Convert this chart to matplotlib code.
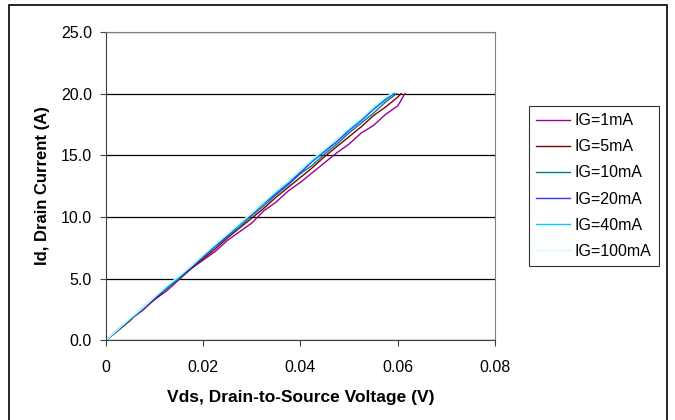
import matplotlib.pyplot as plt
from matplotlib.patches import Rectangle

plt.rcParams['font.family'] = ['Liberation Sans', 'DejaVu Sans']

labels = ['IG=1mA', 'IG=5mA', 'IG=10mA', 'IG=20mA', 'IG=40mA', 'IG=100mA']
colors = ['#990099', '#800000', '#008080', '#3333FF', '#00CCFF', '#CCFFFF']

# common Vds grid (V), each series then runs on to its own end point
grid = [0, 0.0025, 0.005, 0.0075, 0.01, 0.0125, 0.015, 0.0175, 0.02, 0.0225, 0.025, 0.0275,
        0.03, 0.0325, 0.035, 0.0375, 0.04, 0.0425, 0.045, 0.0475, 0.05, 0.0525, 0.055, 0.0575]
vds_end = [[0.06, 0.0605, 0.0615], [0.06, 0.0607], [0.0598], [0.0593], [0.059], [0.0588]]
id_end = [[19.0, 19.3, 20.0], [19.7, 20.0], [20.0], [20.0], [20.0], [20.0]]

id_a = [
    [0, 0.8, 1.7, 2.4, 3.3, 4.0, 4.9, 5.8, 6.5, 7.2, 8.1, 8.8, 9.5, 10.5, 11.2, 12.1, 12.8,
     13.6, 14.4, 15.2, 15.9, 16.8, 17.4, 18.3],
    [0, 0.8, 1.6, 2.6, 3.3, 4.2, 5.0, 5.8, 6.6, 7.4, 8.3, 9.1, 9.9, 10.7, 11.6, 12.4, 13.2,
     14.0, 14.9, 15.7, 16.5, 17.3, 18.2, 18.9],
    [0, 0.8, 1.7, 2.5, 3.4, 4.2, 5.0, 5.9, 6.7, 7.6, 8.4, 9.2, 10.1, 10.9, 11.8, 12.6, 13.5,
     14.2, 15.1, 15.9, 16.8, 17.6, 18.4, 19.3],
    [0, 0.9, 1.7, 2.6, 3.4, 4.3, 5.1, 5.9, 6.8, 7.6, 8.5, 9.4, 10.2, 11.1, 11.9, 12.7, 13.6,
     14.5, 15.3, 16.1, 17.0, 17.8, 18.7, 19.5],
    [0, 0.9, 1.7, 2.6, 3.5, 4.3, 5.1, 6.0, 6.9, 7.7, 8.6, 9.4, 10.3, 11.2, 12.0, 12.8, 13.8,
     14.6, 15.4, 16.3, 17.1, 17.9, 18.8, 19.6],
    [0, 0.9, 1.8, 2.6, 3.5, 4.4, 5.2, 6.0, 6.9, 7.8, 8.6, 9.5, 10.3, 11.2, 12.1, 12.9, 13.8,
     14.7, 15.5, 16.3, 17.2, 18.0, 18.9, 19.7],
]

fig = plt.figure(figsize=(6.75, 4.2), dpi=100)
ax = fig.add_axes([0.157, 0.190, 0.576, 0.734])

for y, xe, ye, lab, c in zip(id_a, vds_end, id_end, labels, colors):
    ax.plot(grid + xe, y + ye, color=c, lw=1.0, label=lab)

ax.set_xlim(0, 0.08)
ax.set_ylim(0, 25)
ax.set_xticks([0, 0.02, 0.04, 0.06, 0.08])
ax.set_xticklabels(['0', '0.02', '0.04', '0.06', '0.08'])
ax.set_yticks([0, 5, 10, 15, 20, 25])
ax.set_yticklabels(['0.0', '5.0', '10.0', '15.0', '20.0', '25.0'])
ax.yaxis.grid(True, color='black', lw=0.9)
ax.set_axisbelow(True)
ax.tick_params(direction='out', length=4, labelsize=11.5, color='#404040')
ax.tick_params(axis='x', pad=10)
ax.tick_params(axis='y', pad=6)
ax.spines['left'].set_color('#404040')
ax.spines['bottom'].set_color('#404040')
ax.spines['top'].set_color('#808080')
ax.spines['right'].set_color('#808080')

ax.set_xlabel('Vds, Drain-to-Source Voltage (V)', fontsize=12.5, fontweight='bold', labelpad=11)
ax.set_ylabel('Id, Drain Current (A)', fontsize=12, fontweight='bold', labelpad=8)

leg = ax.legend(loc='center left', bbox_to_anchor=(0.784, 0.557), bbox_transform=fig.transFigure,
                fontsize=11.5, frameon=True, fancybox=False, handlelength=2.1,
                labelspacing=0.7, borderpad=0.45, handletextpad=0.3, borderaxespad=0)
leg.get_frame().set_edgecolor('black')
leg.get_frame().set_linewidth(0.8)

fig.patches.append(Rectangle((0.013, -0.01), 0.975, 0.998, transform=fig.transFigure,
                             fill=False, edgecolor='black', lw=1.2))

plt.savefig('out.png', dpi=100)
